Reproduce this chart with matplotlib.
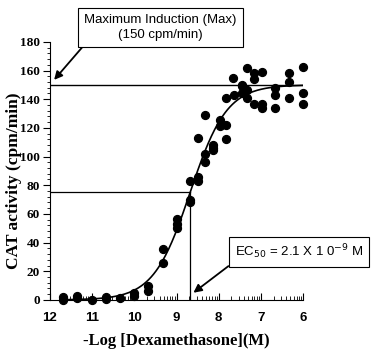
import numpy as np
import matplotlib
matplotlib.use("Agg")
import matplotlib.pyplot as plt
from matplotlib.ticker import FixedLocator, MultipleLocator

# data: x = -log[Dex] (M), y = CAT activity (cpm/min)
neg_log_dex = [11.7, 11.7, 11.35, 11.35, 11.0, 10.67, 10.67, 10.33, 10.0, 10.0,
               9.67, 9.67, 9.33, 9.33, 9.0, 9.0, 9.0, 8.67, 8.67, 8.67,
               8.5, 8.5, 8.5, 8.33, 8.33, 8.33, 8.13, 8.13, 8.13, 7.98,
               7.98, 7.82, 7.82, 7.82, 7.64, 7.66, 7.46, 7.46, 7.46, 7.34,
               7.34, 7.34, 7.17, 7.17, 7.17, 6.98, 6.98, 6.98, 6.67, 6.67,
               6.67, 6.33, 6.33, 6.33, 6.0, 6.0, 6.0]
cat_activity = [2, 0, 2.8, 1, 0, 0.7, 2, 1, 4.5, 2.5,
                9.5, 6.5, 35.5, 25.5, 56.5, 53, 50.5, 83, 70, 68,
                86, 83, 113, 101.7, 96.5, 129, 108, 104.7, 106, 125.6,
                121, 122, 112, 141, 142.6, 154.7, 150, 144, 149, 162,
                146.5, 140.7, 158, 154, 136.5, 159, 134, 137, 148, 142.6,
                133.8, 158, 152, 140.7, 162.8, 144, 137]

max_induction = 150
ec50_neg_log = -np.log10(2.1e-9)
hill = 1.0

fig = plt.figure(figsize=(3.78, 3.52), dpi=100)
ax = fig.add_axes([0.132, 0.148, 0.670, 0.733])

# fitted dose-response curve
xc = np.linspace(11.7, 6.0, 300)
yc = max_induction / (1 + 10 ** (hill * (xc - ec50_neg_log)))
ax.plot(xc, yc, color='black', lw=1.2)

ax.scatter(neg_log_dex, cat_activity, s=32, color='black', zorder=3, clip_on=False)

# reference lines
ax.plot([12, 6], [max_induction, max_induction], color='black', lw=1.0)
ax.plot([12, ec50_neg_log], [max_induction / 2, max_induction / 2], color='black', lw=0.9)
ax.plot([ec50_neg_log, ec50_neg_log], [0, max_induction / 2], color='black', lw=0.9)

ax.set_xlim(12, 6)
ax.set_ylim(0, 180)
ax.spines['top'].set_visible(False)
ax.spines['right'].set_visible(False)

ax.set_xticks([12, 11, 10, 9, 8, 7, 6])
minor = [d - np.log10(k) for d in range(12, 6, -1) for k in range(2, 10)]
ax.xaxis.set_minor_locator(FixedLocator(minor))
ax.set_yticks(range(0, 181, 20))
ax.yaxis.set_minor_locator(MultipleLocator(4))
ax.tick_params(axis='x', which='major', direction='in', length=5, pad=9)
ax.tick_params(axis='x', which='minor', direction='in', length=3)
ax.tick_params(axis='y', which='major', direction='out', length=5, pad=2)
ax.tick_params(axis='y', which='minor', direction='out', length=2.5)

for lab in ax.get_xticklabels():
    lab.set_fontfamily('Liberation Sans')
    lab.set_fontweight('bold')
    lab.set_fontsize(9.5)
for lab in ax.get_yticklabels():
    lab.set_fontfamily('Liberation Serif')
    lab.set_fontweight('bold')
    lab.set_fontsize(9.5)

ax.set_xlabel('-Log [Dexamethasone](M)', fontfamily='Liberation Serif',
              fontweight='bold', fontsize=12, labelpad=6)
ax.set_ylabel('CAT activity (cpm/min)', fontfamily='Liberation Serif',
              fontweight='bold', fontsize=12.5)
ax.yaxis.set_label_coords(-0.112, 0.46)

box = dict(boxstyle='square,pad=0.45', fc='white', ec='black', lw=0.8)
arrow = dict(arrowstyle='-|>', color='black', lw=1.3, mutation_scale=12, shrinkA=0, shrinkB=0)

ax.annotate('Maximum Induction (Max)\n(150 cpm/min)', xy=(11.9, 153.5),
            xytext=(0.437, 1.056), textcoords='axes fraction',
            ha='center', va='center', fontsize=9.5, fontfamily='Liberation Sans',
            linespacing=1.4, bbox=box, arrowprops=dict(arrow, relpos=(0.02, 0.0)),
            annotation_clip=False)

ax.annotate('EC$_{50}$ = 2.1 X 1 0$^{-9}$ M', xy=(8.6, 5),
            xytext=(0.984, 0.186), textcoords='axes fraction',
            ha='center', va='center', fontsize=9.5, fontfamily='Liberation Sans',
            bbox=dict(box, pad=0.6), arrowprops=dict(arrow, relpos=(0.0, 0.0)),
            annotation_clip=False)

fig.savefig('out.png', dpi=100)
